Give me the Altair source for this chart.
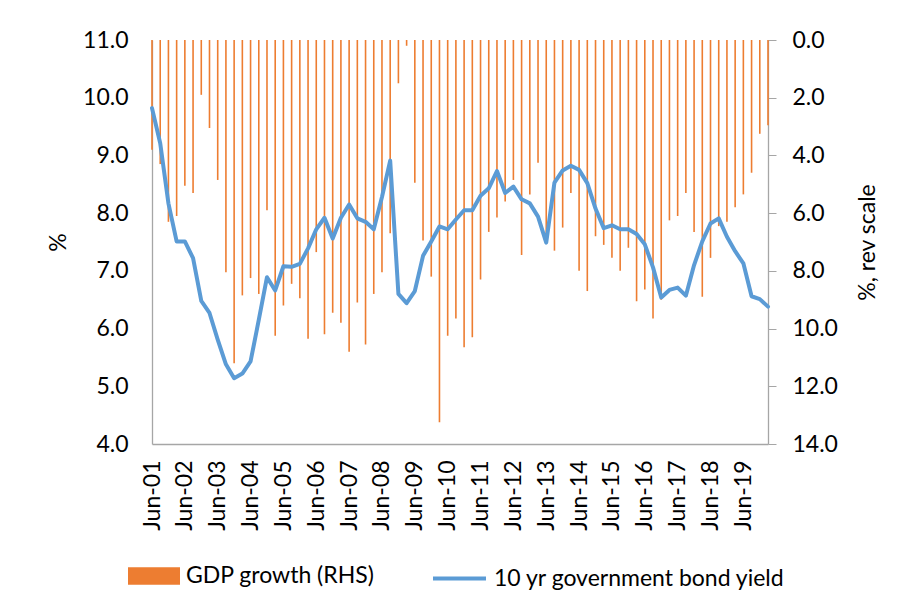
import altair as alt
import pandas as pd

# Quarterly categories Jun-01 ... Mar-20
months = ["Jun", "Sep", "Dec", "Mar"]
quarters = []
for i in range(76):
    m = months[i % 4]
    yr = 1 + (i + 2) // 4  # Mar belongs to next year
    quarters.append(f"{m}-{yr:02d}")

tick_labels = [q for q in quarters if q.startswith("Jun")]

gdp_growth = [3.8, 4.3, 6.3, 6.1, 5.05, 5.3, 1.9, 3.05, 4.85, 8.05, 11.2, 8.85, 8.25,
              8.8, 5.9, 10.25, 9.2, 8.45, 8.95, 10.35, 7.35, 10.2, 9.45, 9.8, 10.8, 9.1,
              10.55, 8.8, 8.05, 6.7, 1.5, 0.2, 4.95, 6.95, 8.2, 13.25, 10.25, 9.65, 10.65,
              10.3, 8.3, 6.65, 6.15, 5.6, 4.85, 7.45, 5.35, 4.25, 6.9, 7.3, 6.5,
              5.3, 8.0, 8.7, 6.8, 7.1, 7.55, 8.0, 7.2, 9.05, 8.65, 9.65, 9.0, 6.25,
              6.1, 5.3, 6.65, 8.9, 7.55, 6.45, 6.3, 5.8, 5.35, 4.6, 3.25, 2.95]

bond_yield = [9.82, 9.21, 8.17, 7.51, 7.51, 7.22, 6.48, 6.27, 5.81, 5.38, 5.14, 5.22, 5.43,
              6.15, 6.89, 6.66, 7.08, 7.07, 7.12, 7.39, 7.72, 7.92, 7.56, 7.92, 8.15, 7.91,
              7.85, 7.72, 8.28, 8.91, 6.60, 6.44, 6.65, 7.26, 7.51, 7.77, 7.72, 7.89, 8.05,
              8.05, 8.30, 8.43, 8.73, 8.35, 8.46, 8.24, 8.17, 7.94, 7.49, 8.53, 8.74,
              8.82, 8.75, 8.52, 8.08, 7.74, 7.79, 7.72, 7.72, 7.64, 7.46, 7.06, 6.54,
              6.67, 6.71, 6.57, 7.10, 7.51, 7.82, 7.91, 7.59, 7.34, 7.13, 6.56, 6.51, 6.38]

gdp_name = "GDP growth (RHS)"
yld_name = "10 yr government bond yield"

df = pd.DataFrame({
    "q": quarters,
    "gdp": gdp_growth,
    "yld": bond_yield,
    "gname": gdp_name,
    "yname": yld_name,
})

FONT = "Lato"
FS = 23
AXIS_GRAY = "#a6a6a6"


def x_enc():
    return alt.X(
        "q:N",
        sort=quarters,
        scale=alt.Scale(type="point", padding=0, domain=quarters),
        axis=alt.Axis(
            values=tick_labels,
            labelAngle=270,
            ticks=False,
            labelPadding=16,
            domainColor=AXIS_GRAY,
            labelFontSize=FS,
            title=None,
        ),
    )


bars = alt.Chart(df).mark_bar(size=1.6).encode(
    x=x_enc(),
    y=alt.Y(
        "gdp:Q",
        scale=alt.Scale(domain=[0, 14], reverse=True, nice=False),
        axis=alt.Axis(
            orient="right",
            values=[0, 2, 4, 6, 8, 10, 12, 14],
            format=".1f",
            ticks=True,
            tickSize=8,
            tickColor=AXIS_GRAY,
            domainColor=AXIS_GRAY,
            labelPadding=16,
            labelFontSize=FS,
            title="%, rev scale",
            titleAngle=270,
            titleFontSize=FS,
            titleFontWeight="normal",
            titlePadding=42,
        ),
    ),
    fill=alt.Fill(
        "gname:N",
        scale=alt.Scale(domain=[gdp_name], range=["#ED7D31"]),
        legend=alt.Legend(
            orient="none",
            legendX=-24,
            legendY=510,
            title=None,
            symbolType="M-1,-0.34H1V0.34H-1Z",
            symbolSize=2704,
            symbolStrokeWidth=0,
            labelFontSize=FS,
            labelOffset=6,
            labelLimit=0,
        ),
    ),
)

line = alt.Chart(df).mark_line(strokeWidth=4, strokeJoin="round", strokeCap="round").encode(
    x=x_enc(),
    y=alt.Y(
        "yld:Q",
        scale=alt.Scale(domain=[4, 11], nice=False),
        axis=alt.Axis(
            orient="left",
            values=[4, 5, 6, 7, 8, 9, 10, 11],
            format=".1f",
            ticks=False,
            domainColor=AXIS_GRAY,
            labelPadding=24,
            labelFontSize=FS,
            title="%",
            titleFontSize=FS,
            titleFontWeight="normal",
            titlePadding=12,
        ),
    ),
    stroke=alt.Stroke(
        "yname:N",
        scale=alt.Scale(domain=[yld_name], range=["#5B9BD5"]),
        legend=alt.Legend(
            orient="none",
            legendX=279,
            legendY=510,
            title=None,
            symbolType="stroke",
            symbolSize=2809,
            symbolStrokeWidth=4,
            labelFontSize=FS,
            labelOffset=6,
            labelLimit=0,
        ),
    ),
)

chart = alt.layer(bars, line).resolve_scale(y="independent").properties(
    width=616,
    height=404,
    autosize=alt.AutoSizeParams(type="none"),
    padding={"left": 144, "top": 32, "right": 128, "bottom": 150},
).configure(
    font=FONT,
).configure_axis(
    grid=False,
    labelColor="#000000",
    titleColor="#000000",
    labelFont=FONT,
    titleFont=FONT,
    domainWidth=1.3,
).configure_legend(
    labelColor="#000000",
    labelFont=FONT,
).configure_view(
    strokeWidth=0,
)

chart.save("out.html", embed_options={"renderer": "svg", "actions": False})
